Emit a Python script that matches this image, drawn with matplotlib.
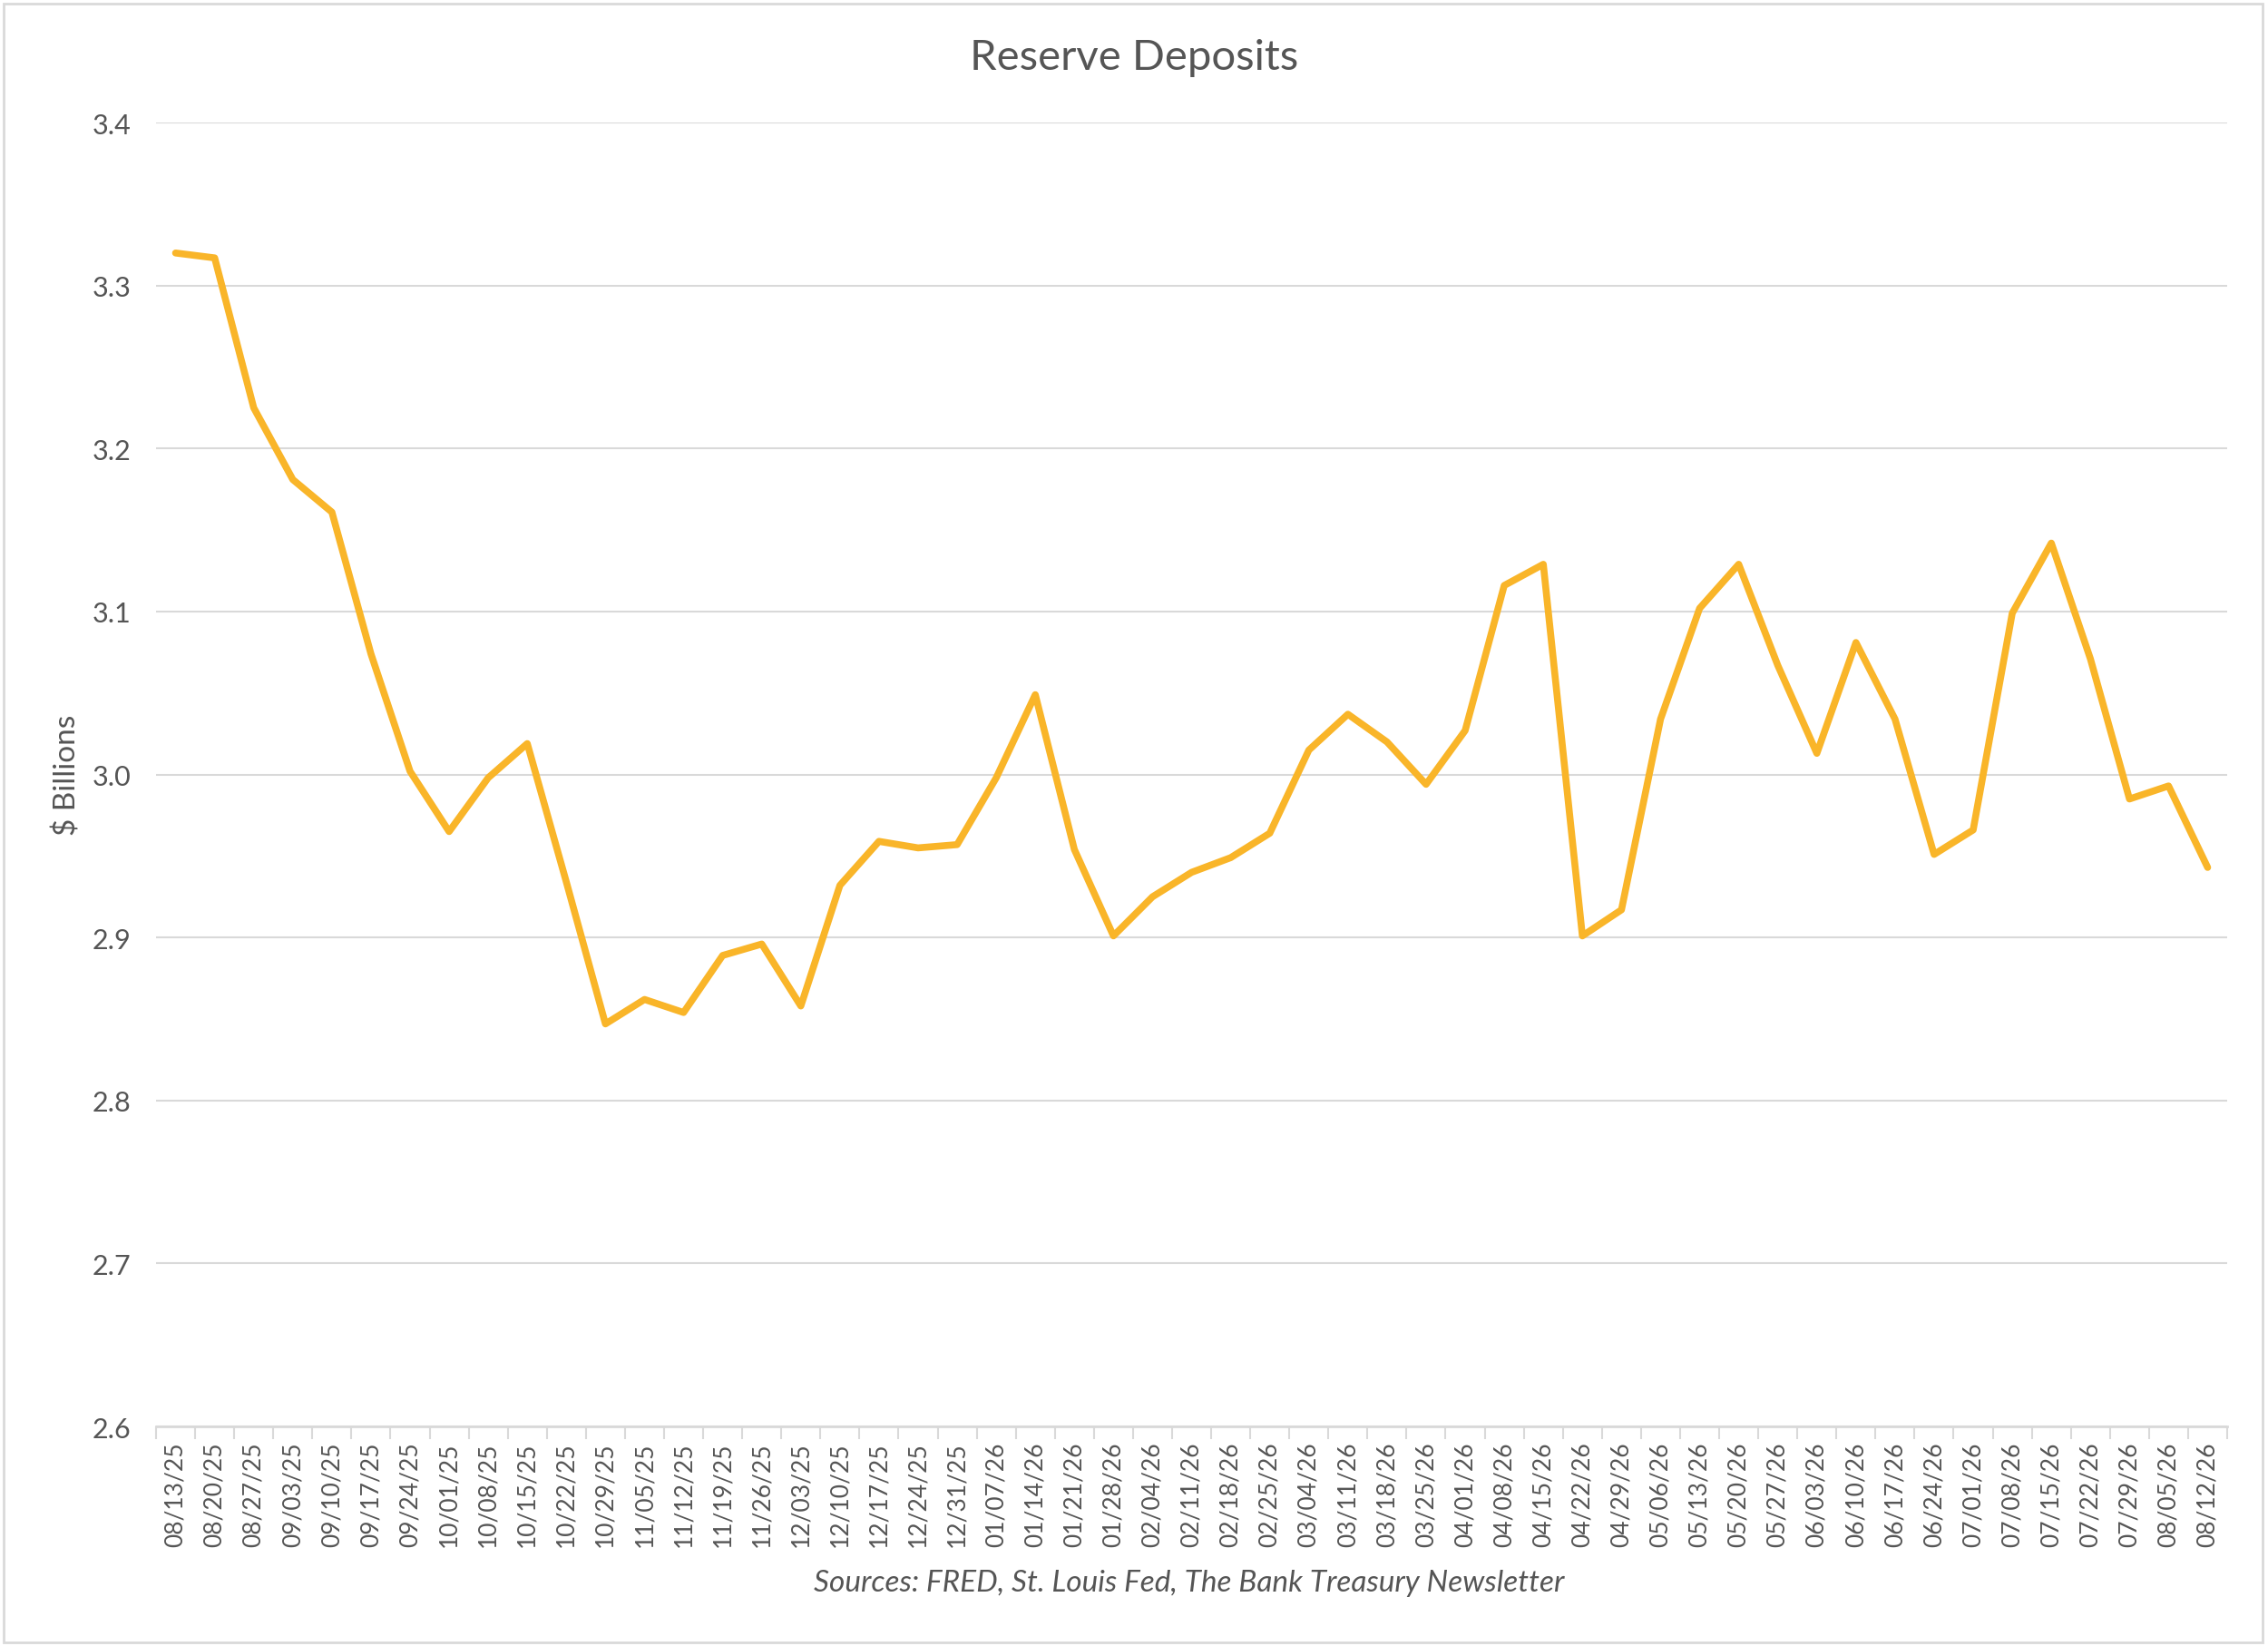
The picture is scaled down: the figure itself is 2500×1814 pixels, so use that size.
import matplotlib.pyplot as plt
from matplotlib.patches import Rectangle

# weekly dates (category labels)
dates = [
    "08/13/25", "08/20/25", "08/27/25", "09/03/25", "09/10/25", "09/17/25",
    "09/24/25", "10/01/25", "10/08/25", "10/15/25", "10/22/25", "10/29/25",
    "11/05/25", "11/12/25", "11/19/25", "11/26/25", "12/03/25", "12/10/25",
    "12/17/25", "12/24/25", "12/31/25", "01/07/26", "01/14/26", "01/21/26",
    "01/28/26", "02/04/26", "02/11/26", "02/18/26", "02/25/26", "03/04/26",
    "03/11/26", "03/18/26", "03/25/26", "04/01/26", "04/08/26", "04/15/26",
    "04/22/26", "04/29/26", "05/06/26", "05/13/26", "05/20/26", "05/27/26",
    "06/03/26", "06/10/26", "06/17/26", "06/24/26", "07/01/26", "07/08/26",
    "07/15/26", "07/22/26", "07/29/26", "08/05/26", "08/12/26",
]

# reserve deposits
reserves = [
    3.320, 3.317, 3.225, 3.181, 3.161, 3.074,
    3.002, 2.965, 2.998, 3.019, 2.934, 2.847,
    2.862, 2.854, 2.889, 2.896, 2.858, 2.932,
    2.959, 2.955, 2.957, 2.998, 3.049, 2.954,
    2.901, 2.925, 2.940, 2.949, 2.964, 3.015,
    3.037, 3.020, 2.994, 3.027, 3.116, 3.129,
    2.901, 2.917, 3.034, 3.102, 3.129, 3.067,
    3.013, 3.081, 3.034, 2.951, 2.966, 3.099,
    3.142, 3.071, 2.985, 2.993, 2.943,
]

y_ticks = [2.6, 2.7, 2.8, 2.9, 3.0, 3.1, 3.2, 3.3, 3.4]

plt.rcParams['font.family'] = ['Lato', 'DejaVu Sans']
text_color = "#555555"
grid_color = "#D9D9D9"

fig = plt.figure(figsize=(25, 18.15), dpi=100)
ax = fig.add_axes([0.0688, 0.1333, 0.9132, 0.7917])

x = list(range(len(dates)))
ax.plot(x, reserves, color="#F9B529", linewidth=5.5, solid_joinstyle="round",
        solid_capstyle="round", zorder=3)

# axes limits and grid
ax.set_xlim(-0.5, len(dates) - 0.5)
ax.set_ylim(2.6, 3.4)
ax.set_yticks(y_ticks)
ax.set_yticklabels([f"{v:.1f}" for v in y_ticks], fontsize=22, color=text_color)
ax.yaxis.grid(True, color=grid_color, linewidth=1.5)
ax.set_axisbelow(True)
ax.tick_params(axis="y", length=0, pad=20)

# category labels centred, ticks between categories
ax.set_xticks(x)
ax.set_xticklabels(dates, rotation=90, fontsize=19, color=text_color)
ax.tick_params(axis="x", which="major", length=0, pad=12)
ax.set_xticks([i - 0.5 for i in range(len(dates) + 1)], minor=True)
ax.tick_params(axis="x", which="minor", length=10, width=1.5, color=grid_color)

for side in ["top", "right", "left"]:
    ax.spines[side].set_visible(False)
ax.spines["bottom"].set_color(grid_color)
ax.spines["bottom"].set_linewidth(2)

ax.set_ylabel("$ Billions", fontsize=24, color=text_color)
ax.yaxis.set_label_coords(-0.036, 0.5)

fig.text(0.5, 1 - 64 / 1815, "Reserve Deposits", ha="center", va="center",
         fontsize=34, color=text_color)
fig.text(1311 / 2500, 1 - 1745 / 1815,
         "Sources: FRED, St. Louis Fed, The Bank Treasury Newsletter",
         ha="center", va="center", fontsize=24, style="italic", color=text_color)

# outer chart border
fig.patches.append(Rectangle((4 / 2500, 4 / 1815), 2490 / 2500, 1806 / 1815,
                             transform=fig.transFigure, fill=False,
                             edgecolor=grid_color, linewidth=2))

fig.savefig("out.png", dpi=100)
